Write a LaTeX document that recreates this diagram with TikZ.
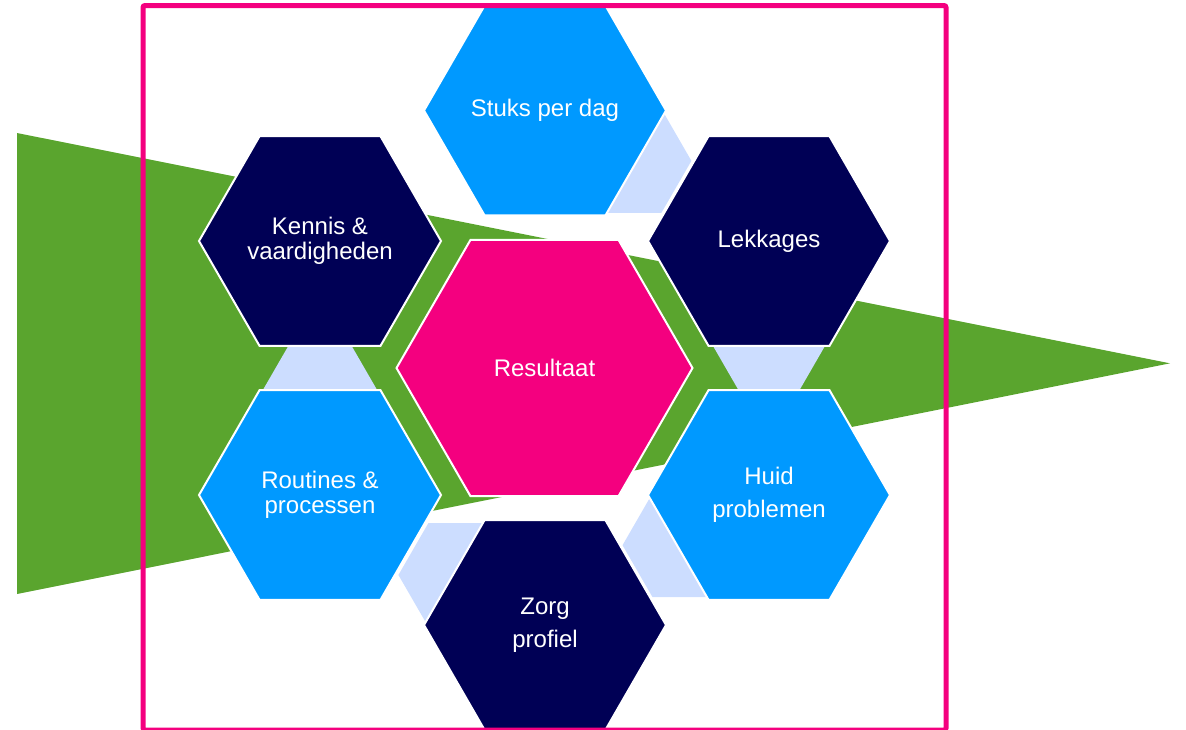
\documentclass[tikz,border=0pt]{standalone}
\usepackage{fontspec}
\setmainfont{Liberation Sans}
\usepackage{tikz}
\usetikzlibrary{shapes.geometric,calc}
\definecolor{navy}{HTML}{000055}
\definecolor{sky}{HTML}{0099FF}
\definecolor{pale}{HTML}{CCDDFF}
\definecolor{magenta}{HTML}{F4007F}
\definecolor{leaf}{HTML}{5AA52E}

\begin{document}
\begin{tikzpicture}[
  x=0.5pt,y=-0.5pt,
  every node/.style={font=\fontsize{12}{12.5}\selectfont,text=white,align=center},
  hexa/.style={regular polygon,regular polygon sides=6,inner sep=0pt,draw=white,line width=1pt,minimum size=121pt},
  hexdark/.style={hexa,fill=navy},
  hexlight/.style={hexa,fill=sky},
  hexcore/.style={hexa,fill=magenta,minimum size=148pt},
  hexpale/.style={regular polygon,regular polygon sides=6,inner sep=0pt,fill=pale,minimum size=60pt},
  frame/.style={draw=magenta,line width=2.5pt,rounded corners=1pt}
]
\useasboundingbox (0,0) rectangle (1186,729);
% centres of the ring
\coordinate (cStuks) at (545,110.5);
\coordinate (cLek) at (769,241);
\coordinate (cHuid) at (769,495);
\coordinate (cZorg) at (545,625);
\coordinate (cRout) at (320,495);
\coordinate (cKennis) at (320,241);
% green arrow behind
\fill[leaf] (17,133) -- (1170,363.3) -- (17,594) -- cycle;
% pale links
\node[hexpale] (p1) at ($(cStuks)!50pt!(cLek)$) {};
\node[hexpale] (p2) at ($(cLek)!49pt!(cHuid)$) {};
\node[hexpale] (p3) at ($(cHuid)!50pt!(cZorg)$) {};
\node[hexpale] (p4) at ($(cZorg)!50pt!(cRout)$) {};
\node[hexpale] (p5) at ($(cRout)!50pt!(cKennis)$) {};
% hexagons
\node[hexcore] (res) at (544.5,368) {Resultaat};
\node[hexlight] (stuks) at (cStuks) {Stuks per dag};
\node[hexdark] (lek) at (cLek) {Lekkages};
\node[hexlight] (huid) at (cHuid) {Huid\\[4pt]problemen};
\node[hexdark] (zorg) at (cZorg) {Zorg\\[4pt]profiel};
\node[hexlight] (rout) at (cRout) {Routines \&\\processen};
\node[hexdark] (kennis) at (cKennis) {Kennis \&\\vaardigheden};
% frame
\draw[frame] (143,5.5) rectangle (946,730);
\end{tikzpicture}
\end{document}
